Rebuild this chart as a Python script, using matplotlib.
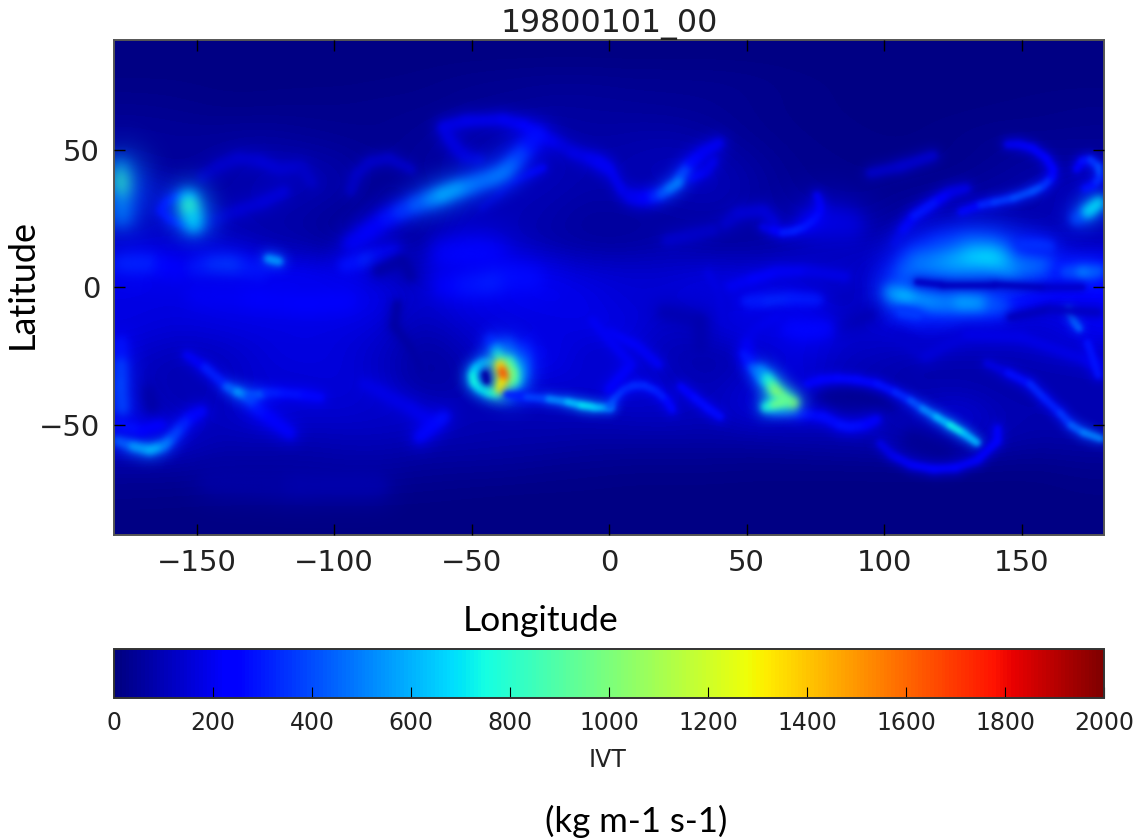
import numpy as np
import matplotlib
matplotlib.use("Agg")
import matplotlib.pyplot as plt
from matplotlib.collections import LineCollection
from matplotlib.colors import Normalize
from matplotlib.patches import Rectangle

TITLE = "19800101_00"
LON_TICKS = [-150, -100, -50, 0, 50, 100, 150]
LAT_TICKS = [-50, 0, 50]
CBAR_TICKS = [0, 200, 400, 600, 800, 1000, 1200, 1400, 1600, 1800, 2000]

# Coarse IVT field: rows run 85N to 85S, columns 172.5W to 172.5E
IVT_BACKGROUND = [
    [8]*24,
    [15,15,12,12,12,12,15,20,30,35,40,40,35,35,35,30,20,15,12,12,12,12,12,12],
    [35,30,20,20,25,25,30,30,40,45,55,55,50,45,40,30,20,15,12,12,12,15,20,25],
    [55,50,50,60,45,35,30,45,70,90,90,65,75,80,60,35,25,20,15,15,25,35,30,35],
    [55,45,65,85,90,70,35,60,70,100,110,85,90,105,100,60,30,25,20,20,25,45,70,60],
    [150,90,70,95,95,80,30,45,80,100,100,75,85,95,110,70,35,30,30,40,55,70,80,130],
    [100,125,90,80,70,35,25,30,100,100,80,50,55,60,70,60,55,40,40,90,90,90,80,110],
    [125,130,130,95,80,55,40,50,120,100,80,60,60,85,50,60,90,110,100,140,200,170,130,100],
    [200,170,190,215,225,185,150,105,120,175,200,155,145,140,175,155,125,105,150,320,450,400,300,300],
    [175,175,195,195,195,205,190,115,165,185,195,190,145,165,165,145,145,110,125,300,250,280,200,190],
    [175,150,160,170,170,170,150,85,140,155,165,180,180,110,165,195,170,140,150,180,170,150,130,220],
    [130,100,110,150,180,160,120,50,90,180,210,120,135,95,65,110,170,130,110,90,90,95,110,105],
    [125,80,100,150,140,165,130,55,80,150,150,150,170,120,90,150,180,120,95,75,75,70,80,90],
    [170,100,105,170,145,145,130,140,95,100,100,110,120,130,105,170,150,120,110,120,170,90,90,95],
    [170,150,95,105,95,105,110,90,90,80,80,70,70,70,70,70,80,90,100,120,130,90,70,80],
    [60,60,50,50,50,60,60,50,45,45,35,30,25,25,25,20,20,20,20,20,20,20,20,30],
    [25,22,20,20,20,20,20,18,15,12,12,12,10,10,10,10,10,10,10,10,10,10,10,15],
    [8]*24,
]

# Narrow features, read as (longitude, latitude, IVT)
ATL_JET = [(-94,16,200),(-88,20,230),(-81,25,270),(-76,27.5,320),(-70.5,30,400),(-65,32,480),(-61,33.5,570),(-56,35.5,620),(-51,37,520),(-47,38.5,470),(-42,40,470),(-38,42,500),(-35,45,470),(-32.5,48,420),(-29,52,320),(-26,55.5,240)]
ATL_HOOK = [(-47,46.4,150),(-52,47.5,170),(-55,50,170),(-58,54,170),(-60.4,58.4,180),(-52,60.5,190),(-38.5,61,200),(-31,59,220),(-26,55.5,230),(-18,52,170),(-13,49,170),(-7,47,190),(-1,44,230)]
ATL_BRANCH = [(-24,43.5,230),(-30,41,190),(-36,38,170),(-41,33,140),(-46,29,130)]
PAC_BLOB = [(-153,32,450),(-152.5,29,950),(-151.5,26,800),(-151,23,500)]
PAC_RING = [(-152,33,220),(-157,33,240),(-161,31,250),(-163,28,260),(-160,25,230),(-155,23,240)]
EDGE_BLOB = [(-179,43,350),(-179,39,750),(-179,35,950),(-179,31,700),(-178,26,300)]
PAC_ARC = [(-148,40,120),(-142,44,130),(-135,47,140),(-127,46,150),(-120,43,160),(-112,44,130),(-108,38,120)]
PAC_ARC2 = [(-94,35,120),(-92,41,120),(-87,45.6,130),(-80,47,130),(-72,43,120)]
PAC_DIAG = [(-153,21,130),(-144,24,140),(-135,28,150),(-126,31,150),(-118,35,170)]
EQ_A = [(-178,9,300),(-170,9,350),(-162,8,280),(-156,6,220)]
EQ_B = [(-150,7,270),(-144,8,340),(-138,8,390),(-132,6.5,350),(-127,5,260)]
EQ_SPOT = [(-124,10.5,650),(-120,9.5,480)]
EQ_C = [(-96,8,220),(-89,10,350),(-84,11,300),(-78,13,240)]
EQ_D = [(-60,12,230),(-50.5,12.5,300),(-42,12,220)]
EQ_E = [(-60,1,230),(-52,1,270),(-44,1.6,320),(-36,4,300),(-28,3,240)]
EQ_F = [(-150,-3,190),(-130,-4,220),(-110,-6,220),(-95,-5,220)]
EUR_SWIRL = [(7.6,33,180),(12,32.5,220),(16,33,280),(19,34,380),(22,36,470),(25,38,520),(26.5,41,480),(29.5,45,300),(34,49,220),(40,52.5,200)]
EUR_LOOP = [(16,33,170),(10,32.5,170),(5,35,180),(0.4,42.7,220),(-4,46,190)]
EUR_UP = [(30,40,230),(35,42,200),(38,46,190)]
ASIA_HOOK = [(56,22,150),(59.6,21,210),(63,20,300),(67,20.5,320),(71,22,310),(75,25,280),(76.7,28,260),(76.5,31,220),(75.6,33.6,190)]
ASIA_BLOB = [(73,24,200),(80,24,210),(88,23,140)]
ASIA_RING = [(42,23,130),(47,27,150),(56,28,150),(60,24,170)]
ASIA_LOW = [(21,17,140),(30,19,130),(38,21,130)]
NE_ARC = [(128,27.5,200),(135,30,300),(140,31,360),(147,32.5,380),(154,35,420),(158,37,400),(161,40,290),(161.5,43,240),(159,47,220),(154,50.7,220),(149,52,210),(144.7,52,190)]
NE_B = [(104,16,140),(107,21,190),(111,26,260),(115.6,29,340),(120,32,250),(124,34.5,210),(130,36,160)]
NE_C = [(95,41.6,120),(106,44,130),(118,48,150)]
RIGHT_EDGE = [(170,25,300),(174,27.5,500),(178.5,31,900)]
RIGHT_LOOP = [(170,43,190),(172,46,250),(175,46.5,320),(178,44,400),(178.5,40,400),(176,37,260),(173,36,220)]
POOL_A = [(108,6,400),(113,9,480),(120,9,520),(126,9.5,560),(132,11,640),(138.6,11,700),(143,9.5,680),(146,7.5,640),(150,9,480),(156.7,9,480)]
POOL_A2 = [(110,11,300),(120,15,320),(130,16,350),(140,15,380),(146,13,320)]
POOL_B = [(166,5.7,330),(172,5.7,480),(176,5.7,520),(179,6,350)]
POOL_C = [(150,15.5,260),(155.5,15.5,440),(160,15,260)]
POOL_D = [(103,-2,450),(107,-3.5,680),(113,-5,620),(121.5,-5.7,470),(128,-5.5,520),(134,-5.7,640),(139,-6,480),(143,-7,330)]
POOL_D2 = [(106,-9,420),(112,-10,320)]
POOL_SPOT = [(167,-8,300),(169,-12,620),(171,-15,280)]
POOL_GAP = [(112,2,130),(121,1,115),(140,1,105),(158,0,120),(172,0,150)]
POOL_GAP2 = [(146,-11,100),(160,-8,110),(178,-9,130)]
AFR_A = [(50,-5,230),(57.6,-5,380),(66,-4,290),(75.6,-4.5,320)]
AFR_B = [(43,0,200),(52,3,210),(61,5.6,230),(72,6,190),(86,4,180)]
AFR_C = [(36,5,180),(40,-2,170),(41,-12,170)]
PAC_DARK = [(-84,6,70),(-75,10,60),(-72,4,80)]
AND_DARK = [(-77,-6,70),(-78,-14,65),(-72,-22,65),(-68,-30,70)]
SP_DARK = [(-168,-38,60),(-166,-44,70)]
AFR_DARK = [(20,-9,90),(33,-12,85),(33,-22,85)]
IND_DARK = [(82,-15,80),(95,-10,110)]
IO_EYE = [(80,-40,35),(90,-39,30),(100,-41,40)]
S_EYE = [(110,-55,40),(122,-60,35)]
CYC_RING = [(-40.7,-38.4,800),(-44,-38,720),(-47,-36.5,700),(-49,-34.5,730),(-49.5,-32,770),(-48.5,-29.5,700),(-46,-27.5,600),(-43,-27,550)]
CYC_UP2 = [(-31,-22,230),(-31,-26,380),(-32,-30,340)]
CYC_UP = [(-43,-19,240),(-41,-22,420),(-40.5,-25,700),(-39.5,-27,800)]
CYC_HALO = [(-37,-21,300),(-34,-29,500),(-36,-37,550)]
CYC_SIDE = [(-36.5,-27,750),(-35,-31,900),(-35,-34,900),(-37,-37,780)]
CYC_CORE = [(-39.6,-28,1150),(-38.8,-30.5,1600),(-38.2,-32.5,1750),(-38.8,-34.5,1500),(-39.6,-37,1100)]
CYC_EYE = [(-45,-31.5,80),(-44.5,-34,50)]
CYC_TAIL = [(-37,-39,290),(-30,-39.8,320),(-22,-40.5,460),(-15,-41.6,590),(-10,-42.8,680),(-5.8,-43.4,740),(0.4,-43.4,560)]
IND_ARC0 = [(0.4,-43.4,450),(2,-40,420),(5,-37,350),(9,-35.5,340),(12.5,-35.5,340),(17,-37.5,320),(21,-41,300),(23,-44.5,220)]
IND_ARC1 = [(26,-36,230),(31,-40,260),(36,-44,280),(40.5,-47,260)]
PAC_S = [(-153.5,-24.5,190),(-147,-29,240),(-139,-36,400),(-135,-38,520),(-130.5,-40,700),(-125,-38.5,350),(-118.5,-38.5,290),(-111,-39,280),(-105,-40,250)]
PAC_S2 = [(-130.5,-40,480),(-128,-44,290),(-124,-47,260),(-116,-53,230)]
SW_ARC = [(-179,-55.5,400),(-173,-57.5,520),(-167,-59,680),(-162,-57.5,560),(-158.5,-54,440),(-155,-50,340),(-152,-47,300),(-148,-45,220)]
SW_ARC2 = [(-178,-50,300),(-170,-52,260),(-163,-50,220)]
L_EDGE = [(-178,-20,260),(-178,-28,330),(-178,-35,450),(-177,-44,340)]
MID_S = [(-89,-35,180),(-83,-38,190),(-78,-41,180),(-72,-44,190),(-66,-48,200)]
MID_S2 = [(-60,-47,290),(-64,-50,260),(-69,-54.5,270)]
FAR_S = [(-145,-70,60),(-115,-72,80),(-84,-72,80)]
IO_RAY = [(49,-24,230),(52,-29,350),(56,-34,480)]
BLOB_IO = [(55,-30,380),(57.5,-33,700),(59.5,-36,850),(61,-38.5,1100),(64,-41,1150),(67,-42,950)]
BLOB_IO2 = [(57,-43.5,650),(60,-42.5,900),(63,-41.5,1050)]
IO_TAIL = [(60,-44.5,340),(70,-46,280),(78,-47,260),(84,-50,280),(87.6,-50.7,290),(93,-50,260),(97.4,-48,240)]
BIG_ARC = [(72,-35,240),(77,-33.5,250),(83,-33,260),(90,-33.5,260),(97.4,-35,270),(104,-38,300),(109.5,-41,360),(114,-44,470),(119,-47,580),(124,-50,680),(129,-53,780),(134,-56.6,480)]
OUT_ARC = [(141,-51,240),(141,-56,240),(134,-62.7,210),(126,-65.5,220),(118,-66,240),(110,-64.5,210),(103,-61,200),(98.5,-56.6,170)]
EAST_S = [(137.4,-27.5,130),(145,-31,220),(153,-35,340),(158,-40,320),(164,-45.6,320),(168,-50,400),(172.5,-52.7,500),(179,-55,520)]
IO_C = [(61,-10.6,210),(53,-15,180),(50,-20,180),(51,-27,240)]
IO_D = [(66,-15,200),(72,-15.5,320),(79,-15,210)]
W_MID = [(0,-16.5,220),(10,-21,240),(18,-28,190)]
W_MID2 = [(0,-37,300),(8,-28,190),(-6,-12,230)]
E_TROP = [(105,-18,150),(115,-25,130),(130,-17,190),(150,-18,170),(178,-28,200)]
E_TROP2 = [(174,-20,280),(178,-32,300)]

FEATURES = [PAC_ARC, PAC_ARC2, PAC_DIAG, ATL_HOOK, ATL_BRANCH, ATL_JET, PAC_RING, PAC_BLOB, EDGE_BLOB,
            EQ_A, EQ_B, EQ_F, EQ_SPOT, EQ_C, EQ_D, EQ_E, EUR_LOOP, EUR_UP, EUR_SWIRL, ASIA_RING, ASIA_LOW, ASIA_BLOB, ASIA_HOOK,
            NE_C, NE_ARC, NE_B, RIGHT_LOOP, RIGHT_EDGE, POOL_A2, POOL_A, POOL_B, POOL_C, POOL_D, POOL_D2, POOL_SPOT,
            POOL_GAP, POOL_GAP2, AFR_A, AFR_B, AFR_C, PAC_DARK, AND_DARK, SP_DARK, AFR_DARK, IND_DARK, IO_EYE, S_EYE,
            CYC_UP2, CYC_HALO, CYC_UP, CYC_RING, CYC_SIDE, CYC_CORE, CYC_EYE, CYC_TAIL, IND_ARC0, IND_ARC1, PAC_S, PAC_S2,
            SW_ARC, SW_ARC2, L_EDGE, MID_S, MID_S2, FAR_S, IO_TAIL, BIG_ARC, OUT_ARC, EAST_S,
            IO_C, IO_D, W_MID, W_MID2, E_TROP, E_TROP2, IO_RAY, BLOB_IO, BLOB_IO2]
WIDTHS_PX = [7, 6, 7, 7, 5, 11, 5, 13, 17,
             13, 13, 16, 6, 10, 18, 16, 6, 6, 7, 7, 7, 18, 5,
             6, 5, 6, 5, 9, 14, 16, 9, 8, 12, 7, 5,
             4, 5, 9, 7, 6, 8, 6, 10, 10, 8, 16, 14,
             10, 12, 8, 6.5, 8, 7, 4, 5, 5, 5, 6, 8,
             7, 7, 10, 8, 8, 14, 6, 5, 5, 5,
             7, 12, 6, 6, 7, 5, 6, 8, 7]


def blur_filter(sigma):
    n = int(3 * sigma) + 1
    x = np.arange(-n, n + 1)
    kernel = np.exp(-0.5 * (x / sigma) ** 2)
    kernel /= kernel.sum()

    def _filter(img, dpi):
        pad = 2 * n
        a = np.pad(img, ((pad, pad), (pad, pad), (0, 0)))
        p = a.copy()
        p[..., :3] *= p[..., 3:]
        for axis in (0, 1):
            p = np.apply_along_axis(lambda r: np.convolve(r, kernel, mode="same"), axis, p)
        al = np.clip(p[..., 3:], 1e-4, 1)
        out = p.copy()
        out[..., :3] = np.clip(p[..., :3] / al, 0, 1)
        out[..., 3] = np.clip(p[..., 3], 0, 1)
        return out, -pad, -pad
    return _filter


W, H = 1136, 838
fig = plt.figure(figsize=(W/100, H/100), dpi=100, facecolor="white")
ax = fig.add_axes([114/W, 1-535/H, 990/W, 495/H])
cax = fig.add_axes([114/W, 1-698/H, 990/W, 49/H])

norm = Normalize(0, 2000)
cmap = plt.get_cmap("jet")
im = ax.imshow(np.array(IVT_BACKGROUND, float), cmap=cmap, norm=norm, extent=[-180, 180, -90, 90],
               interpolation="bicubic", aspect="auto", origin="upper", zorder=1)

z = 2
for feat, wpx in zip(FEATURES, WIDTHS_PX):
    pts = np.array(feat, float)
    segs = np.stack([pts[:-1, :2], pts[1:, :2]], axis=1)
    vals = (pts[:-1, 2] + pts[1:, 2]) / 2
    halo = LineCollection(segs, colors=cmap(norm(vals*0.75 + 30)), linewidths=wpx*0.72*2.4, alpha=0.75,
                          capstyle="round", joinstyle="round", zorder=z)
    halo.set_agg_filter(blur_filter(max(wpx*1.0, 1.0)))
    ax.add_collection(halo)
    outer = LineCollection(segs, colors=cmap(norm(vals)), linewidths=wpx*0.72*1.3, alpha=0.9,
                           capstyle="round", joinstyle="round", zorder=z+0.3)
    outer.set_agg_filter(blur_filter(max(wpx*0.45, 1.0)))
    ax.add_collection(outer)
    z += 1

# the blur filter spreads past the axes: cover the surround with the figure colour
for r in [(-0.12, -0.12, 0.12, 1.24), (1.0, -0.12, 0.12, 1.24), (-0.12, -0.12, 1.24, 0.12), (-0.12, 1.0, 1.24, 0.12)]:
    ax.add_patch(Rectangle(r[:2], r[2], r[3], transform=ax.transAxes, facecolor="white", edgecolor="none",
                           clip_on=False, zorder=500))

ax.set_xlim(-180, 180)
ax.set_ylim(-90, 90)
ax.set_xticks(LON_TICKS)
ax.set_yticks(LAT_TICKS)
ax.tick_params(direction="in", length=8, width=1, top=True, right=True, labelsize=21, pad=10,
               color="black", labelcolor="#222222")
ax.xaxis.set_zorder(600)
ax.yaxis.set_zorder(600)
for s in ax.spines.values():
    s.set_color("#555555")
    s.set_linewidth(1.4)
    s.set_zorder(600)
ax.set_title(TITLE, fontsize=22.8, pad=6, color="#222222")
ax.title.set_zorder(600)

cb = fig.colorbar(im, cax=cax, orientation="horizontal")
cb.set_ticks(CBAR_TICKS)
cb.ax.tick_params(direction="in", length=8, width=0.8, labelsize=17, pad=9, color="black", labelcolor="#222222")
cb.outline.set_edgecolor("#333333")
cb.outline.set_linewidth(1.4)

fig.text(22/W, 1-284/H, "Latitude", rotation=90, ha="center", va="center", family="Lato", fontsize=26, color="black", zorder=700)
fig.text(541/W, 1-621/H, "Longitude", ha="center", va="center", family="Lato", fontsize=25.5, color="black", zorder=700)
fig.text(608/W, 1-760/H, "IVT", ha="center", va="center", fontsize=17, color="#222222", zorder=700)
fig.text(636/W, 1-821/H, "(kg m-1 s-1)", ha="center", va="center", family="Lato", fontsize=25, color="black", zorder=700)

fig.savefig("out.png", dpi=100, facecolor="white")
